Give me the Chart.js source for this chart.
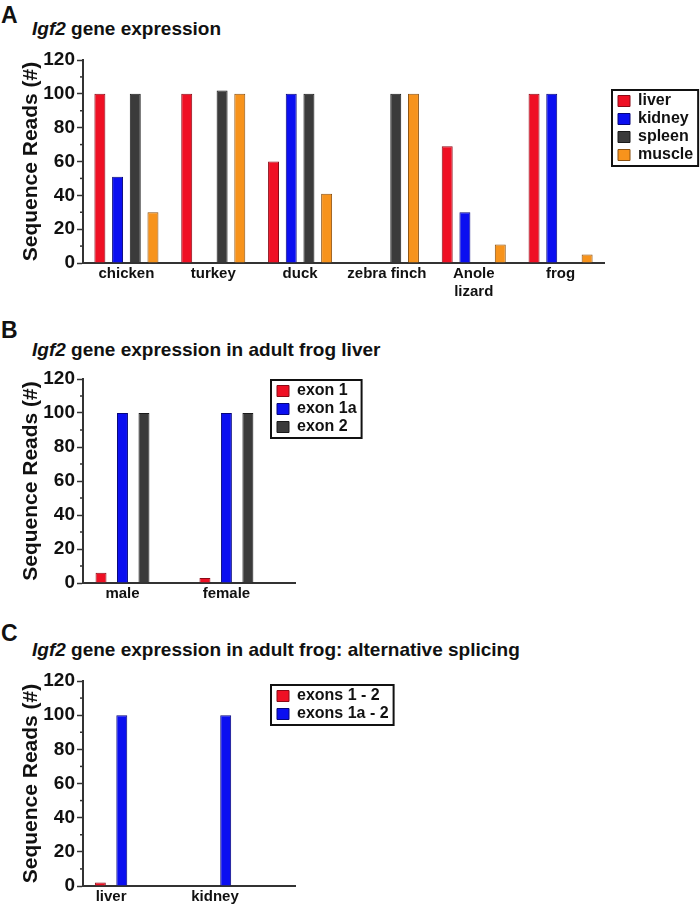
<!DOCTYPE html>
<html>
<head>
<meta charset="utf-8">
<script src="https://cdn.jsdelivr.net/npm/chart.js@4.4.1/dist/chart.umd.min.js"></script>
<style>
  body { margin: 0; background: #fff; font-family: "Liberation Sans", Arial, sans-serif; color: #111; }
  .letter { position: absolute; left: 1px; font-size: 23px; font-weight: bold; line-height: 1; }
  .title { position: absolute; left: 32px; font-size: 19px; font-weight: bold; line-height: 1; white-space: nowrap; }
  canvas { position: absolute; left: 0; }
</style>
</head>
<body>
<div class="letter" style="top:4px">A</div>
<div class="title" style="top:19px"><i>Igf2</i> gene expression</div>
<canvas id="chartA" width="700" height="275" style="top:40px"></canvas>

<div class="letter" style="top:319px">B</div>
<div class="title" style="top:340px"><i>Igf2</i> gene expression in adult frog liver</div>
<canvas id="chartB" width="700" height="254" style="top:359px"></canvas>

<div class="letter" style="top:622px">C</div>
<div class="title" style="top:640px"><i>Igf2</i> gene expression in adult frog: alternative splicing</div>
<canvas id="chartC" width="700" height="243" style="top:661px"></canvas>

<script>
// panel A: reads per species and tissue
const speciesLabels = ['chicken', 'turkey', 'duck', 'zebra finch', ['Anole', 'lizard'], 'frog'];
const liverReads  = [100, 100, 60, 0, 69, 100];
const kidneyReads = [51, 0, 100, 0, 30, 100];
const spleenReads = [100, 102, 100, 100, 0, 0];
const muscleReads = [30, 100, 41, 100, 11, 5];

// panel B: exon usage in adult frog liver
const sexLabels = ['male', 'female'];
const exon1Reads  = [6, 3];
const exon1aReads = [100, 100];
const exon2Reads  = [100, 100];

// panel C: splice variants
const frogTissues = ['liver', 'kidney'];
const exons12Reads  = [2, 0];
const exons1a2Reads = [100, 100];

const RED = '#ef1024', BLUE = '#0b0ff0', GRAY = '#3b3b3b', ORANGE = '#f7931c';

Chart.defaults.font.family = '"Liberation Sans", Arial, sans-serif';
Chart.defaults.font.weight = 'bold';
Chart.defaults.color = '#111';
Chart.defaults.animation = false;

// short unlabelled ticks between the major ones
const minorTicks = {
  id: 'minorTicks',
  afterDraw(chart) {
    const y = chart.scales.y, ctx = chart.ctx;
    ctx.save();
    ctx.strokeStyle = '#333';
    ctx.lineWidth = 1.5;
    for (let v = 10; v < 120; v += 20) {
      const py = y.getPixelForValue(v);
      ctx.beginPath();
      ctx.moveTo(y.right - 3, py);
      ctx.lineTo(y.right, py);
      ctx.stroke();
    }
    ctx.restore();
  }
};

// move the legend to a fixed spot and box it in
const legendFrame = {
  id: 'legendFrame',
  afterLayout(chart, args, opts) {
    const lg = chart.legend;
    const pad = lg.options.labels.padding;
    lg.left = opts.x + 6 - pad;
    lg.top = opts.y + 3 - pad;
    lg.right = lg.left + lg.width;
    lg.bottom = lg.top + lg.height;
  },
  afterDraw(chart, args, opts) {
    const lg = chart.legend;
    const pad = lg.options.labels.padding;
    const col = lg.columnSizes[0];
    const ctx = chart.ctx;
    ctx.save();
    ctx.strokeStyle = '#111';
    ctx.lineWidth = 2;
    ctx.strokeRect(opts.x, opts.y, 6 + col.width + 5, 3 + col.height - pad + 3);
    ctx.restore();
  }
};

function yScale() {
  return {
    min: 0,
    max: 120,
    ticks: { stepSize: 20, padding: 2, color: '#111', font: { size: 19, weight: 'bold' } },
    grid: { drawOnChartArea: false, drawTicks: true, tickLength: 6, tickWidth: 1.5, tickColor: '#333' },
    border: { display: true, color: '#333', width: 2 },
    title: {
      display: true,
      text: 'Sequence Reads (#)',
      color: '#111',
      font: { size: 21, weight: 'bold' },
      padding: { top: 19, bottom: 0 }
    },
    afterFit: s => { s.width = 83; }
  };
}

function legendOpts() {
  return {
    position: 'chartArea',
    align: 'start',
    labels: { boxWidth: 12, boxHeight: 11, padding: 2, color: '#111', font: { size: 16, weight: 'bold' } }
  };
}

function bars(label, data, color, border) {
  return { label, data, backgroundColor: color, borderColor: border, borderWidth: 1, borderSkipped: 'start' };
}

function points(values) {
  return values.map((v, i) => ({ x: i, y: v }));
}

// linear x axis so the groups can sit off-centre like in the original
function pairScale(labels, min, max, height) {
  return {
    type: 'linear',
    min,
    max,
    offset: false,
    afterBuildTicks: s => { s.ticks = labels.map((_, i) => ({ value: i })); },
    ticks: { callback: v => labels[v], padding: 2, color: '#111', font: { size: 15, weight: 'bold' }, maxRotation: 0 },
    grid: { display: false, drawTicks: false },
    border: { display: true, color: '#333', width: 2 },
    afterFit: s => { s.height = height; }
  };
}

new Chart(document.getElementById('chartA'), {
  type: 'bar',
  data: {
    labels: speciesLabels,
    datasets: [
      bars('liver', liverReads, RED, '#8a0a16'),
      bars('kidney', kidneyReads, BLUE, '#06067a'),
      bars('spleen', spleenReads, GRAY, '#1a1a1a'),
      bars('muscle', muscleReads, ORANGE, '#8a5010')
    ]
  },
  options: {
    responsive: false,
    categoryPercentage: 0.815,
    barPercentage: 0.62,
    layout: { padding: { top: 20, right: 96, left: 0, bottom: 0 } },
    scales: {
      x: {
        ticks: { padding: 2, color: '#111', font: { size: 15, weight: 'bold' }, maxRotation: 0, autoSkip: false },
        grid: { display: false, drawTicks: false },
        border: { display: true, color: '#333', width: 2 },
        afterFit: s => { s.height = 52; }
      },
      y: yScale()
    },
    plugins: {
      legend: legendOpts(),
      legendFrame: { x: 612, y: 50 },
      tooltip: { enabled: false }
    }
  },
  plugins: [minorTicks, legendFrame]
});

new Chart(document.getElementById('chartB'), {
  type: 'bar',
  data: {
    datasets: [
      bars('exon 1', points(exon1Reads), RED, '#8a0a16'),
      bars('exon 1a', points(exon1aReads), BLUE, '#06067a'),
      bars('exon 2', points(exon2Reads), GRAY, '#1a1a1a')
    ]
  },
  options: {
    responsive: false,
    categoryPercentage: 0.62,
    barPercentage: 0.51,
    layout: { padding: { top: 20, right: 405, left: 0, bottom: 0 } },
    scales: {
      x: pairScale(sexLabels, -0.38, 1.66, 30),
      y: yScale()
    },
    plugins: {
      legend: legendOpts(),
      legendFrame: { x: 271, y: 21 },
      tooltip: { enabled: false }
    }
  },
  plugins: [minorTicks, legendFrame]
});

new Chart(document.getElementById('chartC'), {
  type: 'bar',
  data: {
    datasets: [
      bars('exons 1 - 2', points(exons12Reads), RED, '#8a0a16'),
      bars('exons 1a - 2', points(exons1a2Reads), BLUE, '#06067a')
    ]
  },
  options: {
    responsive: false,
    categoryPercentage: 0.413,
    barPercentage: 0.51,
    layout: { padding: { top: 20, right: 405, left: 0, bottom: 0 } },
    scales: {
      x: pairScale(frogTissues, -0.27, 1.77, 18),
      y: yScale()
    },
    plugins: {
      legend: legendOpts(),
      legendFrame: { x: 271, y: 24 },
      tooltip: { enabled: false }
    }
  },
  plugins: [minorTicks, legendFrame]
});
</script>
</body>
</html>
